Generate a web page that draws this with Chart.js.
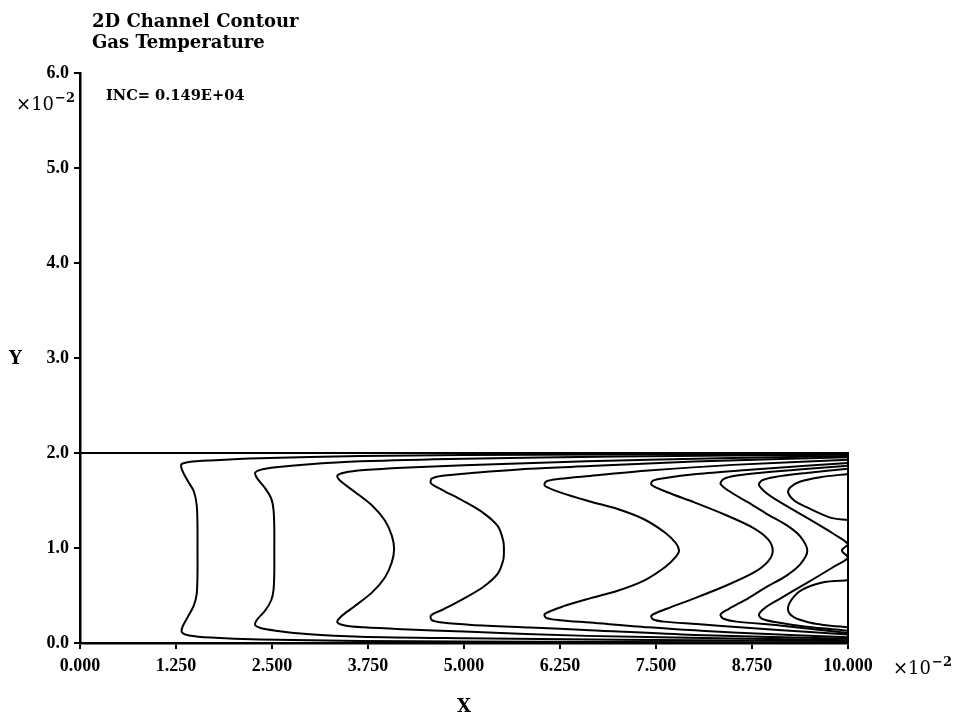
<!DOCTYPE html>
<html>
<head>
<meta charset="utf-8">
<script src="https://cdn.jsdelivr.net/npm/chart.js@4.4.1/dist/chart.umd.min.js"></script>
<style>
  html, body { margin: 0; padding: 0; background: #fff; }
  #wrap { width: 965px; height: 715px; }
</style>
</head>
<body>
<div id="wrap"><canvas id="c" width="965" height="715"></canvas></div>
<script>
// Axis ticks (units of 1e-2)
const xTicks = [0, 1.25, 2.5, 3.75, 5, 6.25, 7.5, 8.75, 10];
const yTicks = [0, 1, 2, 3, 4, 5, 6];

// Text
const titleLines = ['2D Channel Contour', 'Gas Temperature'];
const incLabel = 'INC= 0.149E+04';
const xAxisLabel = 'X';
const yAxisLabel = 'Y';

// Channel outline: upper wall and outlet
const channelWall = [[0, 2], [10, 2], [10, 0]];

// Temperature isolines, each traced from the upper wall round to the lower wall
const contour1 = [[10,1.992],[7,1.985],[5,1.978],[3.65,1.968],[2.34,1.945],[1.7,1.922],[1.42,1.905],[1.32,1.88],[1.33,1.82],[1.40,1.71],[1.48,1.60],[1.52,1.45],[1.53,1.2],[1.53,0.98],[1.53,0.75],[1.52,0.52],[1.48,0.39],[1.40,0.27],[1.33,0.16],[1.33,0.11],[1.42,0.08],[1.7,0.058],[2.34,0.038],[3.65,0.022],[5,0.015],[7,0.01],[10,0.006]];
const contour2 = [[10,1.982],[7,1.962],[5,1.94],[3.65,1.912],[2.95,1.88],[2.55,1.85],[2.36,1.825],[2.28,1.79],[2.31,1.73],[2.41,1.63],[2.49,1.52],[2.52,1.40],[2.53,1.2],[2.53,0.98],[2.53,0.75],[2.52,0.56],[2.49,0.45],[2.41,0.34],[2.31,0.25],[2.28,0.19],[2.36,0.155],[2.55,0.13],[2.95,0.095],[3.65,0.066],[5,0.05],[7,0.035],[10,0.02]];
const contour3 = [[10,1.968],[8.5,1.947],[6.6,1.912],[5.0,1.87],[4.2,1.845],[3.7,1.82],[3.45,1.795],[3.35,1.76],[3.40,1.70],[3.58,1.59],[3.80,1.45],[3.97,1.29],[4.06,1.13],[4.09,0.99],[4.06,0.85],[3.97,0.69],[3.80,0.53],[3.58,0.39],[3.40,0.28],[3.35,0.22],[3.45,0.185],[3.7,0.165],[4.2,0.145],[5.0,0.12],[6.6,0.075],[8.5,0.048],[10,0.03]];
const contour4 = [[10,1.955],[8,1.91],[6.64,1.862],[5.86,1.835],[5.1,1.79],[4.72,1.76],[4.58,1.73],[4.57,1.68],[4.72,1.61],[4.98,1.50],[5.25,1.37],[5.44,1.23],[5.51,1.08],[5.52,0.975],[5.51,0.87],[5.44,0.73],[5.25,0.59],[4.98,0.46],[4.72,0.35],[4.57,0.29],[4.58,0.24],[4.72,0.215],[5.1,0.19],[5.86,0.163],[6.64,0.135],[8,0.085],[10,0.045]];
const contour5 = [[10,1.93],[8.5,1.875],[7.4,1.815],[6.64,1.758],[6.25,1.728],[6.07,1.70],[6.05,1.655],[6.29,1.575],[6.64,1.49],[7.0,1.41],[7.35,1.30],[7.62,1.16],[7.76,1.05],[7.80,0.97],[7.76,0.91],[7.62,0.80],[7.35,0.66],[7.0,0.55],[6.64,0.47],[6.29,0.385],[6.05,0.305],[6.07,0.265],[6.25,0.24],[6.64,0.215],[7.4,0.165],[8.5,0.11],[10,0.06]];
const contour6 = [[10,1.895],[9.5,1.868],[8.68,1.82],[8.03,1.778],[7.6,1.735],[7.46,1.71],[7.44,1.665],[7.64,1.59],[8.0,1.48],[8.4,1.35],[8.77,1.21],[8.96,1.09],[9.02,0.97],[8.96,0.86],[8.77,0.74],[8.4,0.60],[8.0,0.47],[7.64,0.36],[7.44,0.29],[7.46,0.25],[7.6,0.225],[8.03,0.20],[8.68,0.16],[9.5,0.115],[10,0.09]];
const contour7 = [[10,1.865],[9.4,1.83],[8.9,1.795],[8.55,1.762],[8.38,1.725],[8.34,1.675],[8.45,1.60],[8.7,1.48],[8.94,1.36],[9.2,1.24],[9.38,1.12],[9.47,0.97],[9.38,0.83],[9.2,0.71],[8.94,0.59],[8.7,0.47],[8.45,0.36],[8.34,0.30],[8.38,0.255],[8.55,0.225],[9.11,0.185],[10,0.105]];
const contour8 = [[10,1.835],[9.46,1.79],[9.05,1.748],[8.88,1.712],[8.84,1.665],[8.92,1.59],[9.1,1.49],[9.46,1.32],[9.81,1.15],[10,1.04],[9.92,0.975],[10,0.90],[9.81,0.80],[9.46,0.63],[9.1,0.46],[8.92,0.37],[8.84,0.30],[8.88,0.255],[9.05,0.22],[9.46,0.17],[10,0.13]];
const contour9 = [[10,1.78],[9.64,1.745],[9.38,1.70],[9.25,1.64],[9.22,1.585],[9.30,1.50],[9.46,1.43],[9.77,1.32],[10,1.295]];
const contour10 = [[10,0.66],[9.68,0.64],[9.40,0.56],[9.26,0.45],[9.22,0.345],[9.30,0.27],[9.5,0.215],[9.68,0.19],[10,0.165]];

const contours = [contour1, contour2, contour3, contour4, contour5, contour6, contour7, contour8, contour9, contour10];

const SERIF = '"DejaVu Serif", "Liberation Serif", serif';
const TICK_SERIF = '"Liberation Serif", "DejaVu Serif", serif';
const toXY = pts => pts.map(([x, y]) => ({ x, y }));

const datasets = [
  {
    data: toXY(channelWall),
    showLine: true, borderColor: '#000', borderWidth: 2, pointRadius: 0, tension: 0, clip: 4
  },
  ...contours.map(c => ({
    data: toXY(c),
    showLine: true, borderColor: '#000', borderWidth: 2, pointRadius: 0,
    tension: 0.3, cubicInterpolationMode: 'default', clip: 4
  }))
];

// draws "×10" with a raised "−2"
function drawPow(ctx, x, y, size, align) {
  const supSize = Math.round(size * 0.72);
  ctx.font = `${size}px ${SERIF}`;
  const base = '\u00d710';
  const sup = '\u22122';
  const w1 = ctx.measureText(base).width;
  ctx.font = `bold ${supSize}px ${SERIF}`;
  const w2 = ctx.measureText(sup).width;
  const x0 = align === 'right' ? x - w1 - w2 - 1 : x;
  ctx.textAlign = 'left';
  ctx.font = `${size}px ${SERIF}`;
  ctx.fillText(base, x0, y);
  ctx.font = `bold ${supSize}px ${SERIF}`;
  ctx.fillText(sup, x0 + w1 + 1, y - size * 0.45);
}

const textPlugin = {
  id: 'plotText',
  afterDraw(chart) {
    const ctx = chart.ctx;
    ctx.save();
    ctx.fillStyle = '#000';
    ctx.textBaseline = 'alphabetic';
    ctx.textAlign = 'left';
    ctx.font = `bold 18px ${SERIF}`;
    ctx.fillText(titleLines[0], 92, 27);
    ctx.fillText(titleLines[1], 92, 48);
    ctx.font = `bold 14.6px ${SERIF}`;
    ctx.fillText(incLabel, 106, 100);
    ctx.font = `bold 18px ${SERIF}`;
    ctx.fillText(yAxisLabel, 9, 364);
    ctx.textAlign = 'center';
    ctx.fillText(xAxisLabel, (chart.chartArea.left + chart.chartArea.right) / 2, 712);
    drawPow(ctx, 75, 110, 18, 'right');
    drawPow(ctx, 893, 674, 18, 'left');
    ctx.restore();
  }
};

new Chart(document.getElementById('c'), {
  type: 'scatter',
  data: { datasets },
  options: {
    responsive: false,
    animation: false,
    devicePixelRatio: 1,
    layout: { padding: { left: 0, right: 117, top: 73, bottom: 0 } },
    plugins: { legend: { display: false }, tooltip: { enabled: false }, title: { display: false } },
    scales: {
      x: {
        type: 'linear', min: 0, max: 10,
        afterBuildTicks: s => { s.ticks = xTicks.map(v => ({ value: v })); },
        afterFit: s => { s.height = 72; },
        border: { display: true, color: '#000', width: 2.5 },
        grid: { drawOnChartArea: false, drawTicks: true, tickLength: 6, color: '#000', lineWidth: 2 },
        ticks: {
          color: '#000', padding: 7, maxRotation: 0, autoSkip: false,
          font: { family: TICK_SERIF, size: 18, weight: 'bold' },
          callback: v => Number(v).toFixed(3)
        }
      },
      y: {
        type: 'linear', min: 0, max: 6,
        afterBuildTicks: s => { s.ticks = yTicks.map(v => ({ value: v })); },
        afterFit: s => { s.width = 80; },
        border: { display: true, color: '#000', width: 2.5 },
        grid: { drawOnChartArea: false, drawTicks: true, tickLength: 6, color: '#000', lineWidth: 2 },
        ticks: {
          color: '#000', padding: 5, autoSkip: false,
          font: { family: TICK_SERIF, size: 18, weight: 'bold' },
          callback: v => Number(v).toFixed(1)
        }
      }
    }
  },
  plugins: [textPlugin]
});
</script>
</body>
</html>
